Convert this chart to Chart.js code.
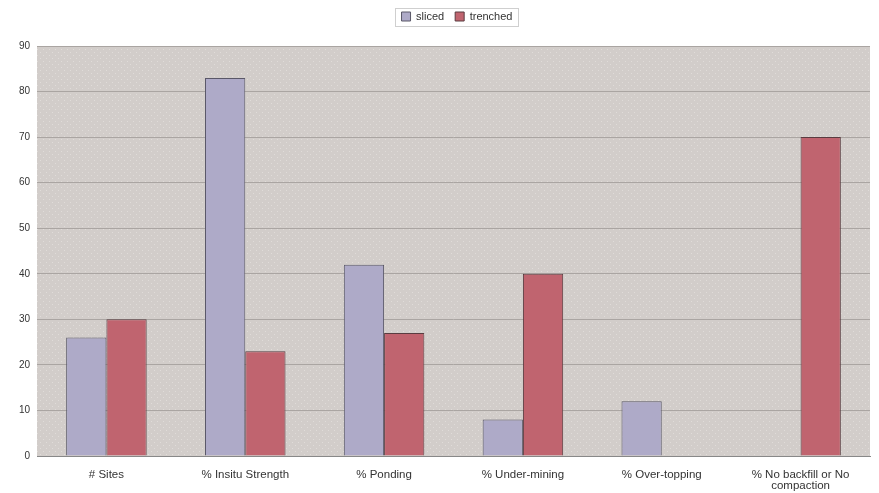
<!DOCTYPE html>
<html><head><meta charset="utf-8">
<script src="https://cdn.jsdelivr.net/npm/chart.js@4/dist/chart.umd.min.js"></script>
<style>html,body{margin:0;padding:0;background:#fff;}#wrap{width:879px;height:493px;}</style>
</head><body><div id="wrap"><canvas id="c" width="879" height="493"></canvas></div>
<script>
const categories = ["# Sites", "% Insitu Strength", "% Ponding", "% Under-mining", "% Over-topping", ["% No backfill or No", "compaction"]];
const slicedValues = [26, 83, 42, 8, 12, 0];
const trenchedValues = [30, 23, 27, 40, 0, 70];
const seriesNames = ["sliced", "trenched"];

// dotted background pattern
const pc = document.createElement('canvas'); pc.width = 6; pc.height = 6;
const px = pc.getContext('2d');
px.fillStyle = '#d2cdca'; px.fillRect(0,0,6,6);
px.fillStyle = '#e0dcd9'; px.fillRect(1,1,1,1); px.fillRect(4,4,1,1);
const bgPattern = px.createPattern(pc, 'repeat');

const FONT = 'Liberation Sans';
const LEGEND_SHIFT = 22;
const bgPlugin = {
  id: 'bg',
  afterInit(chart) {
    const lg = chart.legend;
    if (lg && !lg._patched) {
      const orig = lg.fit;
      lg.fit = function () { orig.call(this); this.height = 46; };
      lg._patched = true;
    }
  },
  afterLayout(chart) {
    const lg = chart.legend;
    lg.left += LEGEND_SHIFT; lg.right += LEGEND_SHIFT;
    (lg.legendHitBoxes || []).forEach(h => { h.left += LEGEND_SHIFT; });
  },
  beforeDraw(chart) {
    const {ctx, chartArea: a} = chart;
    ctx.save(); ctx.fillStyle = bgPattern;
    ctx.fillRect(a.left, a.top, a.right - a.left, a.bottom - a.top);
    ctx.restore();
  },
  afterDraw(chart) {
    const l = chart.legend, ctx = chart.ctx;
    const hb = l.legendHitBoxes;
    if (!hb || !hb.length) return;
    const x0 = hb[0].left - 7;
    const last = hb[hb.length - 1];
    const x1 = last.left + last.width + 5;
    const y0 = hb[0].top - 3, y1 = hb[0].top + hb[0].height + 4;
    ctx.save(); ctx.strokeStyle = '#cfcfcf'; ctx.lineWidth = 1;
    ctx.strokeRect(Math.round(x0) + 0.5, Math.round(y0) + 0.5, Math.round(x1 - x0), Math.round(y1 - y0));
    ctx.restore();
  }
};

new Chart(document.getElementById('c'), {
  type: 'bar',
  data: {
    labels: categories,
    datasets: [
      { label: seriesNames[0], data: slicedValues, backgroundColor: '#aeaac8', borderColor: '#5a5868', borderWidth: 1 },
      { label: seriesNames[1], data: trenchedValues, backgroundColor: '#c0646f', borderColor: '#5a3c40', borderWidth: 1 }
    ]
  },
  options: {
    responsive: false, animation: false,
    datasets: { bar: { categoryPercentage: 0.58, barPercentage: 1.0 } },
    layout: { padding: { left: 0, right: 9, top: 0, bottom: 0 } },
    plugins: {
      legend: {
        position: 'top',
        labels: { boxWidth: 9, boxHeight: 9, padding: 11, font: { family: FONT, size: 11 }, color: '#333' }
      },
      tooltip: { enabled: false }
    },
    scales: {
      x: {
        grid: { display: false, drawTicks: false },
        border: { color: '#888', width: 1 },
        ticks: { font: { family: FONT, size: 11.5, lineHeight: 0.95 }, color: '#333', maxRotation: 0, autoSkip: false, padding: 13 },
        afterFit(scale) { scale.height = 37; }
      },
      y: {
        min: 0, max: 90,
        grid: { color: '#aaa5a2', drawTicks: false },
        border: { display: false },
        ticks: { stepSize: 10, font: { family: FONT, size: 10 }, color: '#333', padding: 7 },
        afterFit(scale) { scale.width = 37; }
      }
    }
  },
  plugins: [bgPlugin]
});
</script></body></html>
